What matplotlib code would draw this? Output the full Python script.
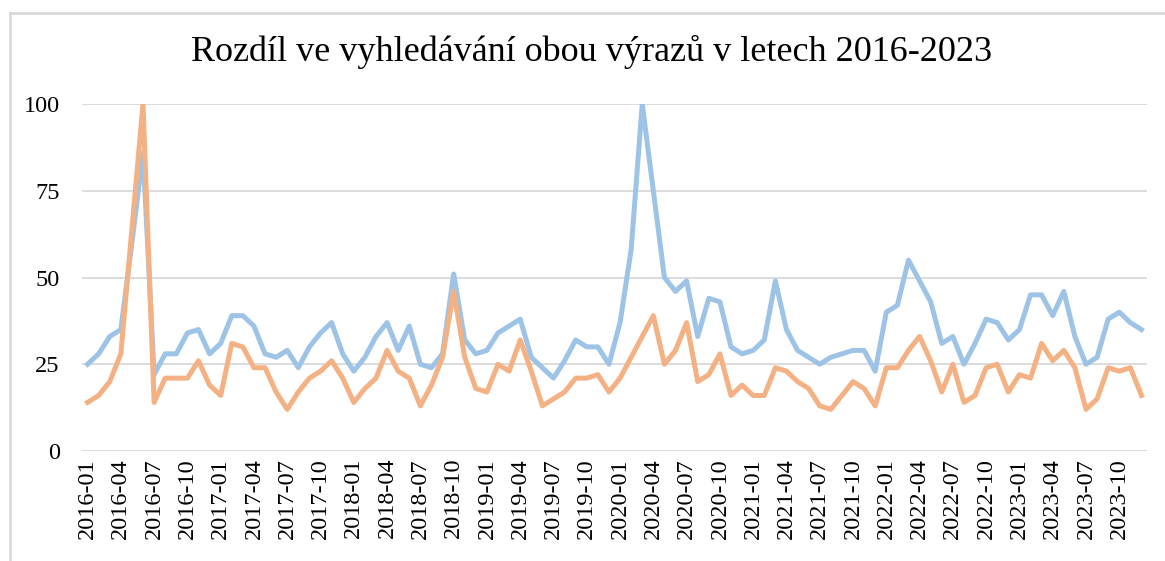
import numpy as np
import matplotlib
matplotlib.use('Agg')
import matplotlib.pyplot as plt
from matplotlib.lines import Line2D

# monthly values 2016-01 .. 2023-12
months = [f'{y}-{m:02d}' for y in range(2016, 2024) for m in range(1, 13)]

blue = [25, 28, 33, 35, 60, 86, 22, 28, 28, 34, 35, 28,
        31, 39, 39, 36, 28, 27, 29, 24, 30, 34, 37, 28,
        23, 27, 33, 37, 29, 36, 25, 24, 28, 51, 32, 28,
        29, 34, 36, 38, 27, 24, 21, 26, 32, 30, 30, 25,
        37, 58, 100, 75, 50, 46, 49, 33, 44, 43, 30, 28,
        29, 32, 49, 35, 29, 27, 25, 27, 28, 29, 29, 23,
        40, 42, 55, 49, 43, 31, 33, 25, 31, 38, 37, 32,
        35, 45, 45, 39, 46, 33, 25, 27, 38, 40, 37, 35]

orange = [14, 16, 20, 28, 64, 100, 14, 21, 21, 21, 26, 19,
          16, 31, 30, 24, 24, 17, 12, 17, 21, 23, 26, 21,
          14, 18, 21, 29, 23, 21, 13, 19, 27, 46, 27, 18,
          17, 25, 23, 32, 23, 13, 15, 17, 21, 21, 22, 17,
          21, 27, 33, 39, 25, 29, 37, 20, 22, 28, 16, 19,
          16, 16, 24, 23, 20, 18, 13, 12, 16, 20, 18, 13,
          24, 24, 29, 33, 26, 17, 25, 14, 16, 24, 25, 17,
          22, 21, 31, 26, 29, 24, 12, 15, 24, 23, 24, 16]

title = 'Rozdíl ve vyhledávání obou výrazů v letech 2016-2023'

plt.rcParams['font.family'] = ['Liberation Serif', 'DejaVu Serif']

W, H = 1165, 561
fig = plt.figure(figsize=(W / 100, H / 100), dpi=100)
ax = fig.add_axes([82 / W, 1 - 451 / H, (1147 - 82) / W, (451 - 104) / H])

x = np.arange(len(months))
ax.plot(x, blue, color='#9DC3E6', lw=3.6, solid_joinstyle='round', zorder=3)
ax.plot(x, orange, color='#F4B183', lw=3.6, solid_joinstyle='round', zorder=4)

ax.set_xlim(-0.5, len(months) - 0.5)
ax.set_ylim(0, 100)
ax.set_yticks([0, 25, 50, 75, 100])
ax.set_xticks(x[::3])
ax.set_xticklabels(months[::3], rotation=90)
ax.tick_params(axis='both', length=0, labelsize=17.5, colors='black')
ax.tick_params(axis='y', pad=16)
ax.tick_params(axis='x', pad=5)
ax.grid(axis='y', color='#D9D9D9', lw=1.3)
ax.set_axisbelow(True)
for s in ax.spines.values():
    s.set_visible(False)

fig.text(592 / W, 1 - 52 / H, title, ha='center', va='center', fontsize=26)

# chart border (only top and left visible in the crop)
fig.add_artist(Line2D([10 / W, 1], [1 - 13 / H, 1 - 13 / H], color='#D9D9D9', lw=2, transform=fig.transFigure))
fig.add_artist(Line2D([10 / W, 10 / W], [0, 1 - 13 / H], color='#D9D9D9', lw=2, transform=fig.transFigure))

fig.savefig('out.png', dpi=100, facecolor='white')
